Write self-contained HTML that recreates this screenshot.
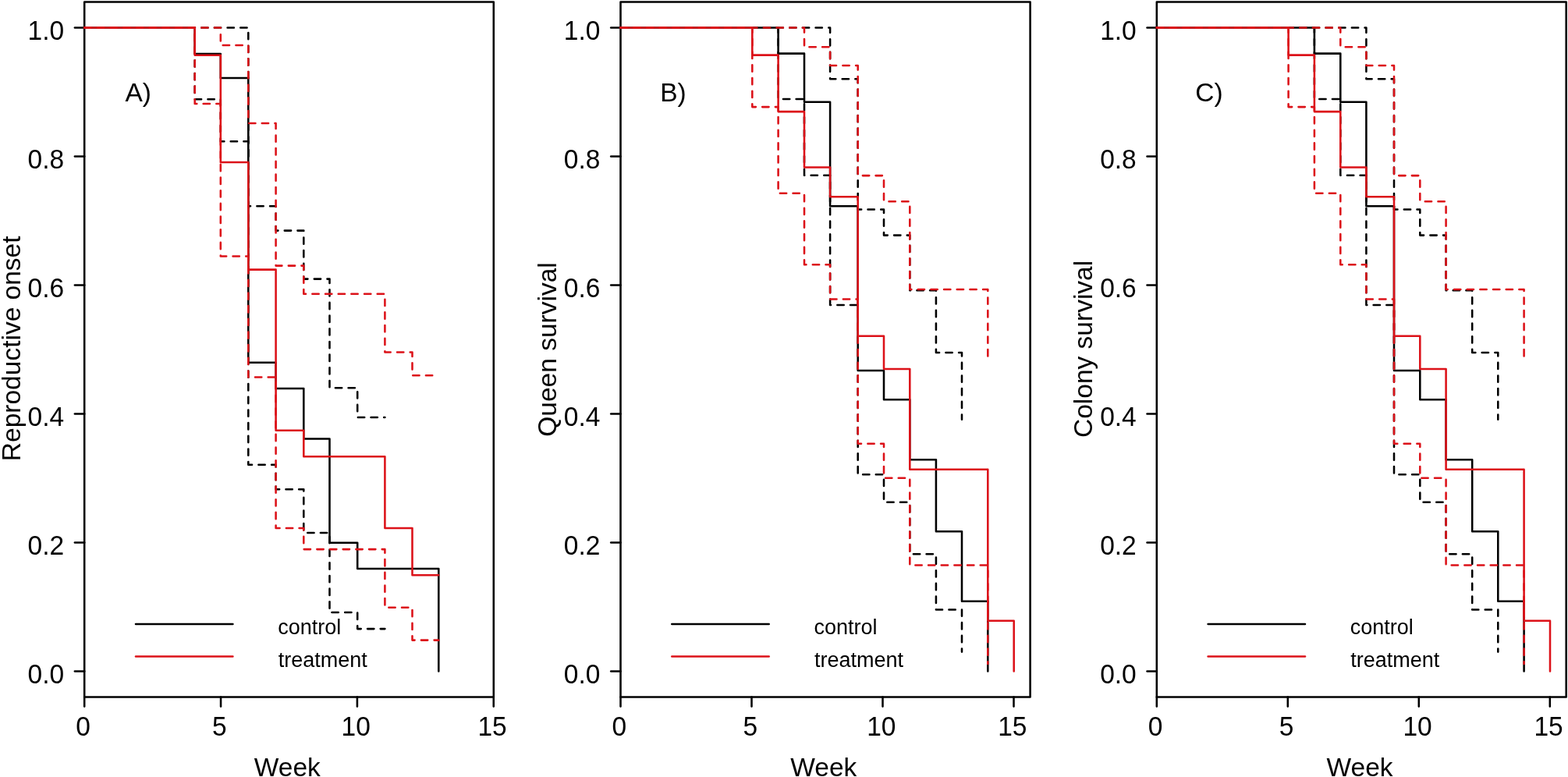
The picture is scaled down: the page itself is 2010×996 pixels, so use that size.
<!DOCTYPE html>
<html><head><meta charset="utf-8"><title>Survival curves</title>
<style>
html,body{margin:0;padding:0;background:#fff;}
body{width:2010px;height:996px;overflow:hidden;}
svg{display:block;}
.ax{fill:none;stroke:#000;stroke-width:2.55;stroke-linecap:round;stroke-linejoin:round;}
.t{font-family:"Liberation Sans",Arial,sans-serif;font-size:33.5px;fill:#000;}
.l{font-family:"Liberation Sans",Arial,sans-serif;font-size:27px;fill:#000;}
</style></head>
<body>
<svg width="2010" height="996" viewBox="0 0 2010 996">
<rect width="2010" height="996" fill="#fff"/>
<rect x="108.2" y="2.4" width="524.6" height="891.1" class="ax"/>
<line x1="95.9" x2="108.2" y1="860.5" y2="860.5" class="ax"/>
<text transform="translate(82.1 876.1) scale(1 1.05)" text-anchor="end" class="t">0.0</text>
<line x1="95.9" x2="108.2" y1="695.48" y2="695.48" class="ax"/>
<text transform="translate(82.1 711.08) scale(1 1.05)" text-anchor="end" class="t">0.2</text>
<line x1="95.9" x2="108.2" y1="530.46" y2="530.46" class="ax"/>
<text transform="translate(82.1 546.06) scale(1 1.05)" text-anchor="end" class="t">0.4</text>
<line x1="95.9" x2="108.2" y1="365.44" y2="365.44" class="ax"/>
<text transform="translate(82.1 381.04) scale(1 1.05)" text-anchor="end" class="t">0.6</text>
<line x1="95.9" x2="108.2" y1="200.42" y2="200.42" class="ax"/>
<text transform="translate(82.1 216.02) scale(1 1.05)" text-anchor="end" class="t">0.8</text>
<line x1="95.9" x2="108.2" y1="35.4" y2="35.4" class="ax"/>
<text transform="translate(82.1 51) scale(1 1.05)" text-anchor="end" class="t">1.0</text>
<line x1="108.2" x2="108.2" y1="893.5" y2="905.6" class="ax"/>
<text transform="translate(106.5 942.6) scale(1 1.05)" text-anchor="middle" class="t">0</text>
<line x1="283.05" x2="283.05" y1="893.5" y2="905.6" class="ax"/>
<text transform="translate(281.35 942.6) scale(1 1.05)" text-anchor="middle" class="t">5</text>
<line x1="457.9" x2="457.9" y1="893.5" y2="905.6" class="ax"/>
<text transform="translate(456.2 942.6) scale(1 1.05)" text-anchor="middle" class="t">10</text>
<line x1="632.75" x2="632.75" y1="893.5" y2="905.6" class="ax"/>
<text transform="translate(631.05 942.6) scale(1 1.05)" text-anchor="middle" class="t">15</text>
<text x="368.3" y="994.5" text-anchor="middle" class="t">Week</text>
<text transform="translate(25.7 446.8) rotate(-90)" text-anchor="middle" class="t">Reproductive onset</text>
<text x="160.4" y="129.8" class="t">A)</text>
<g fill="none" stroke-width="2.55" stroke-linecap="round" stroke-linejoin="round">
<path d="M108.2 35.4H249.7V69H282.8V99.9H318.3V464.7H353.6V497.9H389.3V562.4H422.5V695.7H458.2V729H562.3V860.5" stroke="#000"/>
<path d="M108.2 35.4H318.3V264.3H353.6V295.6H389.3V357.6H422.5V497.2H458.2V534.9H493.4" stroke="#000" stroke-dasharray="8.335 8.335"/>
<path d="M108.2 35.4H249.7V127.2H282.8V181.3H318.3V595.7H353.6V627.3H389.3V682.9H422.5V785H458.2V806.1H493.4" stroke="#000" stroke-dasharray="8.335 8.335"/>
<path d="M108.2 35.4H249.7V70.8H282.8V208H318.3V345.6H353.6V551.7H389.3V585.3H493.4V676.9H528.5V737.2H562.3" stroke="#dc1219"/>
<path d="M108.2 35.4H282.8V57.9H318.3V157.9H353.6V340.6H389.3V376.7H493.4V451.4H528.5V481.2H562.3" stroke="#dc1219" stroke-dasharray="8.335 8.335"/>
<path d="M108.2 35.4H249.7V133H282.8V328.5H318.3V483.4H353.6V676.9H389.3V704.1H493.4V778.8H528.5V820.6H562.3" stroke="#dc1219" stroke-dasharray="8.335 8.335"/>
<path d="M174 800H298.4" stroke="#000"/>
<path d="M174 841.4H298.4" stroke="#dc1219"/>
</g>
<text x="356.2" y="812.7" class="l">control</text>
<text x="356.7" y="855" class="l">treatment</text>
<rect x="795.5" y="2.4" width="525.1" height="891.1" class="ax"/>
<line x1="783.2" x2="795.5" y1="860.5" y2="860.5" class="ax"/>
<text transform="translate(769.4 876.1) scale(1 1.05)" text-anchor="end" class="t">0.0</text>
<line x1="783.2" x2="795.5" y1="695.48" y2="695.48" class="ax"/>
<text transform="translate(769.4 711.08) scale(1 1.05)" text-anchor="end" class="t">0.2</text>
<line x1="783.2" x2="795.5" y1="530.46" y2="530.46" class="ax"/>
<text transform="translate(769.4 546.06) scale(1 1.05)" text-anchor="end" class="t">0.4</text>
<line x1="783.2" x2="795.5" y1="365.44" y2="365.44" class="ax"/>
<text transform="translate(769.4 381.04) scale(1 1.05)" text-anchor="end" class="t">0.6</text>
<line x1="783.2" x2="795.5" y1="200.42" y2="200.42" class="ax"/>
<text transform="translate(769.4 216.02) scale(1 1.05)" text-anchor="end" class="t">0.8</text>
<line x1="783.2" x2="795.5" y1="35.4" y2="35.4" class="ax"/>
<text transform="translate(769.4 51) scale(1 1.05)" text-anchor="end" class="t">1.0</text>
<line x1="795.5" x2="795.5" y1="893.5" y2="905.6" class="ax"/>
<text transform="translate(793.8 942.6) scale(1 1.05)" text-anchor="middle" class="t">0</text>
<line x1="963.5" x2="963.5" y1="893.5" y2="905.6" class="ax"/>
<text transform="translate(961.8 942.6) scale(1 1.05)" text-anchor="middle" class="t">5</text>
<line x1="1131.5" x2="1131.5" y1="893.5" y2="905.6" class="ax"/>
<text transform="translate(1129.8 942.6) scale(1 1.05)" text-anchor="middle" class="t">10</text>
<line x1="1299.5" x2="1299.5" y1="893.5" y2="905.6" class="ax"/>
<text transform="translate(1297.8 942.6) scale(1 1.05)" text-anchor="middle" class="t">15</text>
<text x="1055.85" y="994.5" text-anchor="middle" class="t">Week</text>
<text transform="translate(713 448) rotate(-90)" text-anchor="middle" class="t">Queen survival</text>
<text x="846.2" y="129.8" class="t">B)</text>
<g fill="none" stroke-width="2.55" stroke-linecap="round" stroke-linejoin="round">
<path d="M795.5 35.4H997.6V68.6H1031V130.8H1064.1V264.3H1099.7V474.9H1133V512.2H1166.3V589.2H1199.9V681.2H1233V770.8H1266.3V860.5" stroke="#000"/>
<path d="M795.5 35.4H1064.1V101.3H1099.7V268.5H1133V301.6H1166.3V372.3H1199.9V452H1233V537.7" stroke="#000" stroke-dasharray="8.335 8.335"/>
<path d="M795.5 35.4H997.6V127H1031V224.7H1064.1V391H1099.7V608.3H1133V643.8H1166.3V710.2H1199.9V781.4H1233V835.6" stroke="#000" stroke-dasharray="8.335 8.335"/>
<path d="M795.5 35.4H964.3V70.6H997.6V143.1H1031V214.5H1064.1V252.2H1099.7V430.7H1133V472.9H1166.3V601.8H1266.3V795.7H1299.7V860.5" stroke="#dc1219"/>
<path d="M795.5 35.4H1031V60.2H1064.1V83.9H1099.7V225.1H1133V258.2H1166.3V371H1266.3V457.4" stroke="#dc1219" stroke-dasharray="8.335 8.335"/>
<path d="M795.5 35.4H964.3V137.1H997.6V247.8H1031V339.2H1064.1V383.5H1099.7V568.7H1133V612.7H1166.3V724.4H1266.3V851" stroke="#dc1219" stroke-dasharray="8.335 8.335"/>
<path d="M861.3 800H985.7" stroke="#000"/>
<path d="M861.3 841.4H985.7" stroke="#dc1219"/>
</g>
<text x="1043.5" y="812.7" class="l">control</text>
<text x="1044" y="855" class="l">treatment</text>
<rect x="1482.8" y="2.4" width="524.9" height="891.1" class="ax"/>
<line x1="1470.5" x2="1482.8" y1="860.5" y2="860.5" class="ax"/>
<text transform="translate(1456.7 876.1) scale(1 1.05)" text-anchor="end" class="t">0.0</text>
<line x1="1470.5" x2="1482.8" y1="695.48" y2="695.48" class="ax"/>
<text transform="translate(1456.7 711.08) scale(1 1.05)" text-anchor="end" class="t">0.2</text>
<line x1="1470.5" x2="1482.8" y1="530.46" y2="530.46" class="ax"/>
<text transform="translate(1456.7 546.06) scale(1 1.05)" text-anchor="end" class="t">0.4</text>
<line x1="1470.5" x2="1482.8" y1="365.44" y2="365.44" class="ax"/>
<text transform="translate(1456.7 381.04) scale(1 1.05)" text-anchor="end" class="t">0.6</text>
<line x1="1470.5" x2="1482.8" y1="200.42" y2="200.42" class="ax"/>
<text transform="translate(1456.7 216.02) scale(1 1.05)" text-anchor="end" class="t">0.8</text>
<line x1="1470.5" x2="1482.8" y1="35.4" y2="35.4" class="ax"/>
<text transform="translate(1456.7 51) scale(1 1.05)" text-anchor="end" class="t">1.0</text>
<line x1="1482.8" x2="1482.8" y1="893.5" y2="905.6" class="ax"/>
<text transform="translate(1481.1 942.6) scale(1 1.05)" text-anchor="middle" class="t">0</text>
<line x1="1650.8" x2="1650.8" y1="893.5" y2="905.6" class="ax"/>
<text transform="translate(1649.1 942.6) scale(1 1.05)" text-anchor="middle" class="t">5</text>
<line x1="1818.8" x2="1818.8" y1="893.5" y2="905.6" class="ax"/>
<text transform="translate(1817.1 942.6) scale(1 1.05)" text-anchor="middle" class="t">10</text>
<line x1="1986.8" x2="1986.8" y1="893.5" y2="905.6" class="ax"/>
<text transform="translate(1985.1 942.6) scale(1 1.05)" text-anchor="middle" class="t">15</text>
<text x="1743.05" y="994.5" text-anchor="middle" class="t">Week</text>
<text transform="translate(1400.3 447.4) rotate(-90)" text-anchor="middle" class="t">Colony survival</text>
<text x="1532.3" y="129.8" class="t">C)</text>
<g fill="none" stroke-width="2.55" stroke-linecap="round" stroke-linejoin="round">
<path d="M1482.8 35.4H1684.9V68.6H1718.3V130.8H1751.4V264.3H1787V474.9H1820.3V512.2H1853.6V589.2H1887.2V681.2H1920.3V770.8H1953.6V860.5" stroke="#000"/>
<path d="M1482.8 35.4H1751.4V101.3H1787V268.5H1820.3V301.6H1853.6V372.3H1887.2V452H1920.3V537.7" stroke="#000" stroke-dasharray="8.335 8.335"/>
<path d="M1482.8 35.4H1684.9V127H1718.3V224.7H1751.4V391H1787V608.3H1820.3V643.8H1853.6V710.2H1887.2V781.4H1920.3V835.6" stroke="#000" stroke-dasharray="8.335 8.335"/>
<path d="M1482.8 35.4H1651.6V70.6H1684.9V143.1H1718.3V214.5H1751.4V252.2H1787V430.7H1820.3V472.9H1853.6V601.8H1953.6V795.7H1987V860.5" stroke="#dc1219"/>
<path d="M1482.8 35.4H1718.3V60.2H1751.4V83.9H1787V225.1H1820.3V258.2H1853.6V371H1953.6V457.4" stroke="#dc1219" stroke-dasharray="8.335 8.335"/>
<path d="M1482.8 35.4H1651.6V137.1H1684.9V247.8H1718.3V339.2H1751.4V383.5H1787V568.7H1820.3V612.7H1853.6V724.4H1953.6V851" stroke="#dc1219" stroke-dasharray="8.335 8.335"/>
<path d="M1548.6 800H1673" stroke="#000"/>
<path d="M1548.6 841.4H1673" stroke="#dc1219"/>
</g>
<text x="1730.8" y="812.7" class="l">control</text>
<text x="1731.3" y="855" class="l">treatment</text>
</svg>
</body></html>
